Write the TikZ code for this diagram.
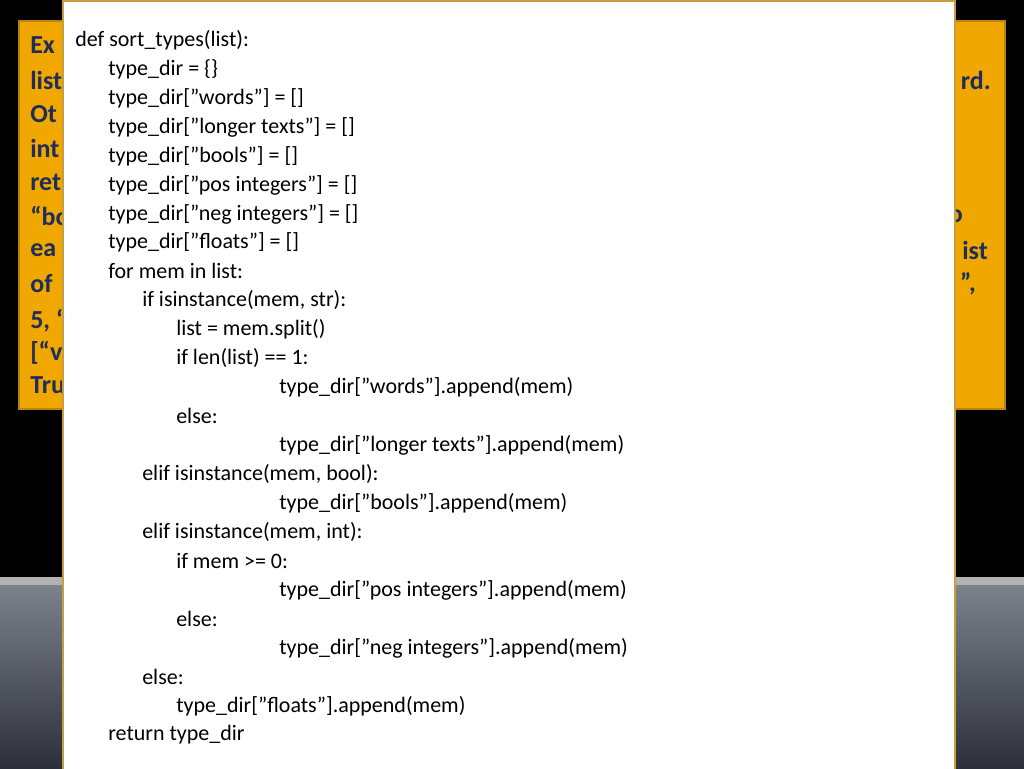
\documentclass[tikz,border=0pt]{standalone}
\usepackage{fontspec}
\setmainfont{Carlito}
\usetikzlibrary{positioning}
\definecolor{slidegold}{HTML}{F0A800}
\definecolor{goldedge}{HTML}{B8860B}
\definecolor{navytext}{HTML}{1F2D5A}
\definecolor{bandgrey}{HTML}{4A5060}
\begin{document}
\begin{tikzpicture}[x=0.75pt,y=-0.75pt,
    hidden/.style={anchor=west,inner sep=0pt,text=navytext,font=\fontsize{19.5}{22}\selectfont\bfseries},
    codeline/.style={anchor=west,inner sep=0pt,font=\fontsize{16.5}{19}\selectfont}]
  \useasboundingbox (0,0) rectangle (1024,768);
  % background
  \fill[black] (0,0) rectangle (1024,577);
  \shade[top color=bandgrey!70,bottom color=bandgrey!60!black] (0,577) rectangle (1024,768);
  \fill[gray!60] (0,577) rectangle (1024,585);
  % orange box with hidden text
  \draw[goldedge,line width=2pt,fill=slidegold] (19,21) rectangle (1005,409);
  \foreach \t/\y in {Ex/45,list/80,Ot/114,int/148,ret/182,“bo/216,ea/250,of/284,{5, “}/321,[“v/353,Tru/385}
    \node[hidden] at (30,\y) {\t};
  \node[hidden,anchor=east] at (991,80) {rd.};
  \node[hidden,anchor=east] at (963,216) {o};
  \node[hidden,anchor=east] at (988,250) {ist};
  \node[hidden,anchor=east] at (976,284) {”,};
  % code box
  \draw[goldedge!80,line width=1.5pt,fill=white] (63,1) rectangle (955,770);
  \node[codeline] (l1) at (75,40) {def sort\_types(list):};
  \node[codeline] (l2) at (108,69) {type\_dir = \{\}};
  \node[codeline] (l3) at (108,98) {type\_dir["words"] = []};
  \node[codeline] (l4) at (108,127) {type\_dir["longer texts"] = []};
  \node[codeline] (l5) at (108,156) {type\_dir["bools"] = []};
  \node[codeline] (l6) at (108,185) {type\_dir["pos integers"] = []};
  \node[codeline] (l7) at (108,214) {type\_dir["neg integers"] = []};
  \node[codeline] (l8) at (108,242) {type\_dir["floats"] = []};
  \node[codeline] (l9) at (108,271) {for mem in list:};
  \node[codeline] (l10) at (142,300) {if isinstance(mem, str):};
  \node[codeline] (l11) at (176,329) {list = mem.split()};
  \node[codeline] (l12) at (176,358) {if len(list) == 1:};
  \node[codeline] (l13) at (279,387) {type\_dir["words"].append(mem)};
  \node[codeline] (l14) at (176,416) {else:};
  \node[codeline] (l15) at (279,445) {type\_dir["longer texts"].append(mem)};
  \node[codeline] (l16) at (142,474) {elif isinstance(mem, bool):};
  \node[codeline] (l17) at (279,503) {type\_dir["bools"].append(mem)};
  \node[codeline] (l18) at (142,532) {elif isinstance(mem, int):};
  \node[codeline] (l19) at (176,561) {if mem >= 0:};
  \node[codeline] (l20) at (279,590) {type\_dir["pos integers"].append(mem)};
  \node[codeline] (l21) at (176,619) {else:};
  \node[codeline] (l22) at (279,648) {type\_dir["neg integers"].append(mem)};
  \node[codeline] (l23) at (142,677) {else:};
  \node[codeline] (l24) at (176,706) {type\_dir["floats"].append(mem)};
  \node[codeline] (l25) at (108,735) {return type\_dir};
\end{tikzpicture}
\end{document}
